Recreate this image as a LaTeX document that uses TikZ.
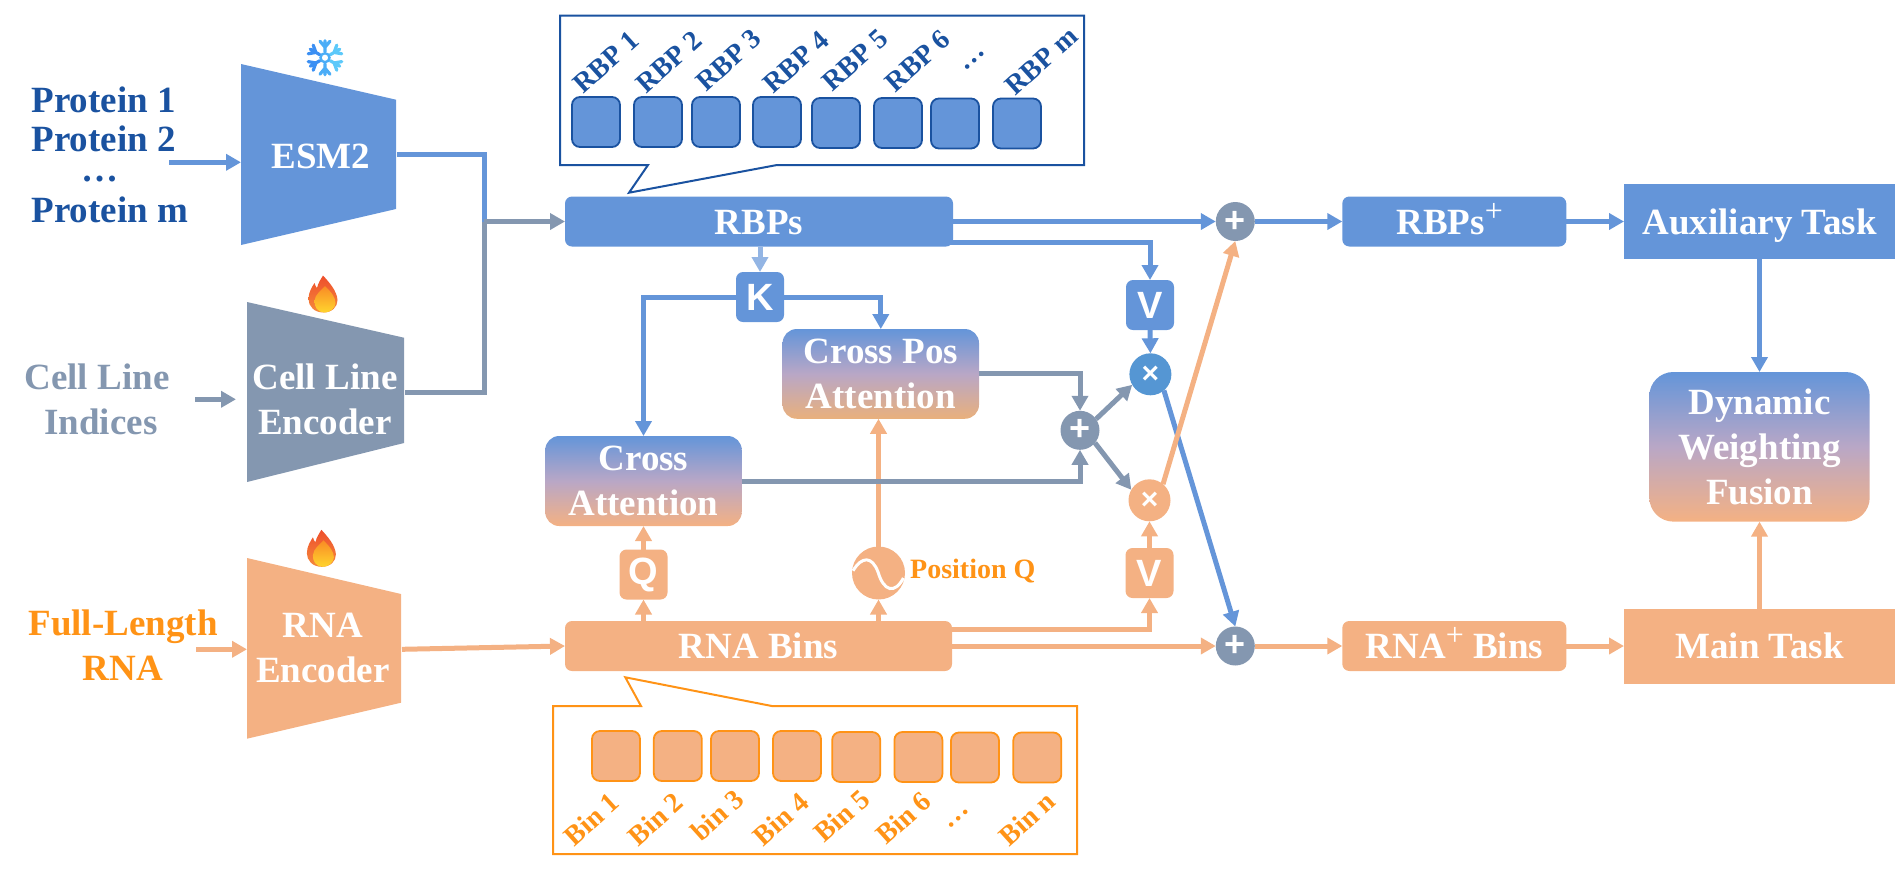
\documentclass[tikz,border=0pt]{standalone}
\usepackage{fontspec}
\usepackage{tikz}
\usetikzlibrary{arrows.meta}
\setmainfont{Liberation Serif}
\newfontfamily\keyfamily{Liberation Sans}
\newcommand{\plusmark}{\raisebox{13pt}{\fontsize{32}{32}\selectfont\mdseries +}}
\definecolor{rblue}{HTML}{6495D9}
\definecolor{rdark}{HTML}{1A52A0}
\definecolor{rgrey}{HTML}{8497B0}
\definecolor{rpeach}{HTML}{F4B183}
\definecolor{rorange}{HTML}{FF9316}
\definecolor{rmid}{HTML}{B9A7C6}
\definecolor{rtan}{HTML}{E9B07C}
\definecolor{rmul}{HTML}{5596D3}
\definecolor{flakea}{HTML}{3B8FF3}
\definecolor{flakeb}{HTML}{4BADF7}
\definecolor{flakec}{HTML}{5CC9FA}
\definecolor{flamea}{HTML}{EE4E2B}
\definecolor{flameb}{HTML}{F58A3C}
\definecolor{flamec}{HTML}{F98B25}
\definecolor{flamed}{HTML}{FFD52E}
\tikzset{
    bigtext/.style={font=\fontsize{37}{45}\selectfont\bfseries,align=center,inner sep=0pt},
    arrline/.style={line width=5pt},
    arrhead/.style={arrline,-{Triangle[length=15pt,width=16pt]}},
    flatbox/.style={bigtext,text=white,rounded corners=7pt,minimum height=50pt,outer sep=0pt,
        text height=25pt,text depth=0pt},
    taskbox/.style={bigtext,text=white,minimum width=271pt,minimum height=75pt,outer sep=0pt,
        text height=25pt,text depth=0pt},
    keybox/.style={font=\keyfamily\fontsize{38}{40}\selectfont\bfseries,text=white,rounded corners=7pt,
        minimum width=48pt,minimum height=50pt,inner sep=0pt,outer sep=0pt},
    mixbox/.style={bigtext,text=white,rounded corners=14pt,outer sep=0pt,
        top color=rblue,bottom color=rpeach,middle color=rmid},
    opcirc/.style={circle,text=white,minimum size=39pt,inner sep=0pt,outer sep=0pt,
        font=\keyfamily\fontsize{36}{36}\selectfont\bfseries},
    rbpcell/.style={fill=rblue,draw=rdark,line width=1.8pt,rounded corners=8pt,
        minimum width=48pt,minimum height=50pt,inner sep=0pt},
    bincell/.style={fill=rpeach,draw=rorange,line width=1.8pt,rounded corners=8pt,
        minimum width=48pt,minimum height=50pt,inner sep=0pt},
    slanttext/.style={font=\fontsize{28}{30}\selectfont\bfseries,anchor=base west,rotate=42,inner sep=0pt},
}
\begin{document}
\begin{tikzpicture}[x=1pt,y=-1pt]
    \useasboundingbox (0,0) rectangle (1903,879);

    \fill[rblue] (241,64) -- (396,99.7) -- (396,209) -- (241,245) -- cycle;
    \fill[rgrey] (247,302) -- (404,337.7) -- (404,443) -- (247,482) -- cycle;
    \fill[rpeach] (247,558) -- (401,594) -- (401,702.7) -- (247,738.7) -- cycle;
    \node[bigtext,text=white,anchor=base] (esm) at (321,168.3) {ESM2};
    \node[bigtext,text=white,anchor=base] (cellenca) at (325,389) {Cell Line};
    \node[bigtext,text=white,anchor=base] (cellencb) at (325,434) {Encoder};
    \node[bigtext,text=white,anchor=base] (rnaenca) at (323,637.3) {RNA};
    \node[bigtext,text=white,anchor=base] (rnaencb) at (323,682) {Encoder};

    \node[bigtext,text=rdark,anchor=base west] (prota) at (31.4,112.7) {Protein 1};
    \node[bigtext,text=rdark,anchor=base west] (protb) at (31.4,151.7) {Protein 2};
    \node[bigtext,text=rdark,anchor=base] (protdots) at (99.6,181) {…};
    \node[bigtext,text=rdark,anchor=base west] (protm) at (31.4,222.7) {Protein m};
    \node[bigtext,text=rgrey,anchor=base] (cella) at (97,389) {Cell Line};
    \node[bigtext,text=rgrey,anchor=base] (cellb) at (101,434) {Indices};
    \node[bigtext,text=rorange,anchor=base] (fulla) at (123,635) {Full-Length};
    \node[bigtext,text=rorange,anchor=base] (fullb) at (123,680) {RNA};

    \begin{scope}[shift={(325,57.7)}]
        \foreach \a/\c in {90/flakeb,30/flakec,-30/flakec,-90/flakeb,210/flakea,150/flakea}
            \draw[\c,line width=3.2pt,line cap=round,rotate=\a] (6,0) -- (17,0) (10.5,0) -- ++(6,5) (10.5,0) -- ++(6,-5);
        \draw[flakeb,line width=2.4pt] (0,0) circle (4.5);
    \end{scope}
    \foreach \fx/\fy in {323/294,321.4/548.3} {
        \begin{scope}[shift={(\fx,\fy)}]
            \shade[top color=flamea,bottom color=flameb] (0.5,18.5) .. controls (-9,18.5) and (-14.5,12) .. (-14.5,5)
                .. controls (-14.5,-2) and (-11,-7) .. (-8.5,-11) .. controls (-7.5,-8) and (-7,-7) .. (-6,-6)
                .. controls (-5,-11) and (-2,-15) .. (0,-18.5) .. controls (6,-12) and (14,-3) .. (14.5,6)
                .. controls (14.5,13) and (9,18.5) .. (0.5,18.5) -- cycle;
            \shade[top color=flamec,bottom color=flamed] (1.5,18.5) .. controls (-5,18.5) and (-9,13) .. (-8.5,7)
                .. controls (-8,0) and (-2,-3) .. (2,-8) .. controls (8,-2) and (12.5,3) .. (12.5,9)
                .. controls (12.5,14) and (7,18.5) .. (1.5,18.5) -- cycle;
        \end{scope}
    }

    \draw[rdark,line width=2pt,fill=white] (560,15.7) -- (1084,15.7) -- (1084,165) -- (777,165) -- (629,192.7) -- (648,165) -- (560,165) -- cycle;
    \foreach \i/\x/\y in {1/596/122,2/658/122,3/716/122,4/777/122,5/836/123,6/898/123,7/955/123.5,8/1017/123.5}
        \node[rbpcell] (rbpcell\i) at (\x,\y) {};
    \foreach \i/\x/\y/\t in {1/583.5/95/RBP 1,2/646.8/94.3/RBP 2,3/706/92.7/RBP 3,4/773.3/95/RBP 4,5/832.6/92.7/RBP 5,6/895/93.3/RBP 6,8/1015.7/96.7/RBP m}
        \node[slanttext,text=rdark] (rbptag\i) at (\x,\y) {\t};
    \node[font=\fontsize{28}{30}\selectfont\bfseries,text=rdark,rotate=42,inner sep=0pt] (rbpdots) at (975,60.7) {…};

    \draw[rorange,line width=2pt,fill=white] (553,706) -- (641,706) -- (625.3,677.3) -- (771.8,706) -- (1077,706) -- (1077,854) -- (553,854) -- cycle;
    \foreach \i/\x/\y in {1/616/756,2/677.8/756,3/735/756,4/797/756,5/856.2/757,6/918.4/757,7/975/757.5,8/1037.3/757.5}
        \node[bincell] (bincell\i) at (\x,\y) {};
    \foreach \i/\x/\y/\t in {1/574.4/847.3/Bin 1,2/638.4/847.3/Bin 2,3/700.9/842.7/bin 3,4/763.5/847.3/Bin 4,5/824.5/844/Bin 5,6/886.4/846/Bin 6,8/1009.3/847.3/Bin n}
        \node[slanttext,text=rorange] (bintag\i) at (\x,\y) {\t};
    \node[font=\fontsize{28}{30}\selectfont\bfseries,text=rorange,rotate=42,inner sep=0pt] (bindots) at (959,818.3) {…};

    \node[flatbox,fill=rblue,minimum width=388pt] (rbps) at (759,221.5) {RBPs};
    \node[flatbox,fill=rpeach,minimum width=387pt] (bins) at (758.5,646) {RNA Bins};
    \node[flatbox,fill=rblue,minimum width=224pt] (rbpsplus) at (1454.3,221.5) {RBPs\plusmark\hspace*{9pt}};
    \node[flatbox,fill=rpeach,minimum width=224pt] (binsplus) at (1454.3,646) {RNA\plusmark\ Bins};
    \node[taskbox,fill=rblue] (auxtask) at (1759.5,221.5) {Auxiliary Task};
    \node[taskbox,fill=rpeach] (maintask) at (1759.5,646) {Main Task};
    \node[mixbox,rounded corners=24pt,minimum width=220.4pt,minimum height=149.6pt] (fusion) at (1759.5,446.8) {Dynamic\\Weighting\\Fusion};
    \node[mixbox,minimum width=196.4pt,minimum height=89.7pt,bottom color=rtan,middle color=rmid] (crosspos) at (880.8,373.9) {Cross Pos\\Attention};
    \node[mixbox,minimum width=196.5pt,minimum height=90pt] (crossatt) at (643.5,481) {Cross\\Attention};
    \node[keybox,fill=rblue] (keyk) at (760,297) {K};
    \node[keybox,fill=rblue] (keyv) at (1150,305) {V};
    \node[keybox,fill=rpeach] (keyq) at (643.5,574.5) {Q};
    \node[keybox,fill=rpeach] (valv) at (1149.5,573) {V};

    \node[circle,fill=rpeach,minimum size=53pt,inner sep=0pt,outer sep=0pt] (sinewave) at (878.5,573) {};
    \draw[white,line width=3pt] (853,570.7) .. controls (862,556) and (872,556) .. (878,572) .. controls (884,592) and (895,594) .. (903.4,578);
    \node[font=\fontsize{28}{30}\selectfont\bfseries,text=rorange,anchor=base west,inner sep=0pt] (posq) at (910,578.3) {Position Q};

    \node[opcirc,fill=rgrey] (plustop) at (1235.3,221.5) {+};
    \node[opcirc,fill=rgrey] (plusbot) at (1235.3,646) {+};
    \node[opcirc,fill=rgrey] (plusmid) at (1080,430.3) {+};
    \node[opcirc,fill=rmul,minimum size=42pt,font=\keyfamily\fontsize{30}{30}\selectfont\bfseries] (multop) at (1150.4,374.3) {×};
    \node[opcirc,fill=rpeach,minimum size=42pt,font=\keyfamily\fontsize{30}{30}\selectfont\bfseries] (mulbot) at (1149.5,500.3) {×};

    \coordinate (protend) at (169,162.3);
    \coordinate (esmin) at (241,162.3);
    \coordinate (esmout) at (397,154.3);
    \coordinate (cellstart) at (195,399.3);
    \coordinate (cellin) at (236,399.3);
    \coordinate (cellout) at (405,392.7);
    \coordinate (rnastart) at (196.4,649.3);
    \coordinate (rnain) at (247,649.3);
    \coordinate (rnaout) at (402,649.3);
    \coordinate (joinpt) at (484,221.5);

    \draw[arrhead,rblue] (protend) -- (esmin);
    \draw[arrhead,rgrey] (cellstart) -- (cellin);
    \draw[arrhead,rpeach] (rnastart) -- (rnain);
    \draw[arrline,rblue] (esmout) -| (joinpt);
    \draw[arrline,rgrey] (cellout) -| (joinpt);
    \draw[arrhead,rgrey] (joinpt) -- (rbps.west);
    \draw[arrhead,rpeach] (rnaout) -- (bins.west);

    \draw[arrhead,rblue] (rbps.east) -- (plustop.west);
    \draw[arrhead,rblue] ([xshift=-10pt,yshift=-21pt]rbps.east) -| (keyv.north);
    \draw[arrhead,rblue!70!white] (rbps.south -| keyk) -- (keyk.north);
    \draw[arrhead,rblue] (keyk.west) -| (crossatt.north);
    \draw[arrhead,rblue] (keyk.east) -| (crosspos.north);
    \draw[arrhead,rblue] (keyv.south) -- (multop.north);

    \draw[arrhead,rpeach] (bins.north -| keyq) -- (keyq.south);
    \draw[arrhead,rpeach] (keyq.north) -- (crossatt.south);
    \draw[arrhead,rpeach] (bins.north -| sinewave) -- (sinewave.south);
    \draw[arrhead,rpeach] (sinewave.north) -- (crosspos.south -| sinewave);
    \draw[arrhead,rpeach] ([yshift=17pt]bins.east) -| (valv.south);
    \draw[arrhead,rpeach] (bins.east) -- (plusbot.west);
    \draw[arrhead,rpeach] (valv.north) -- (mulbot.south);

    \draw[arrhead,rgrey] (crosspos.east) -| (plusmid.north);
    \draw[arrhead,rgrey] (crossatt.east) -| (plusmid.south);
    \draw[arrhead,rgrey] (plusmid.35) -- (multop.210);
    \draw[arrhead,rgrey] (plusmid.-40) -- (mulbot.150);

    \draw[arrhead,rblue] (multop.-50) -- (plusbot.north);
    \draw[arrhead,rpeach] (mulbot.50) -- (plustop.south);

    \draw[arrhead,rblue] (plustop.east) -- (rbpsplus.west);
    \draw[arrhead,rpeach] (plusbot.east) -- (binsplus.west);
    \draw[arrhead,rblue] (rbpsplus.east) -- (auxtask.west);
    \draw[arrhead,rpeach] (binsplus.east) -- (maintask.west);
    \draw[arrhead,rblue] (auxtask.south) -- (fusion.north);
    \draw[arrhead,rpeach] (maintask.north) -- (fusion.south);
\end{tikzpicture}
\end{document}
